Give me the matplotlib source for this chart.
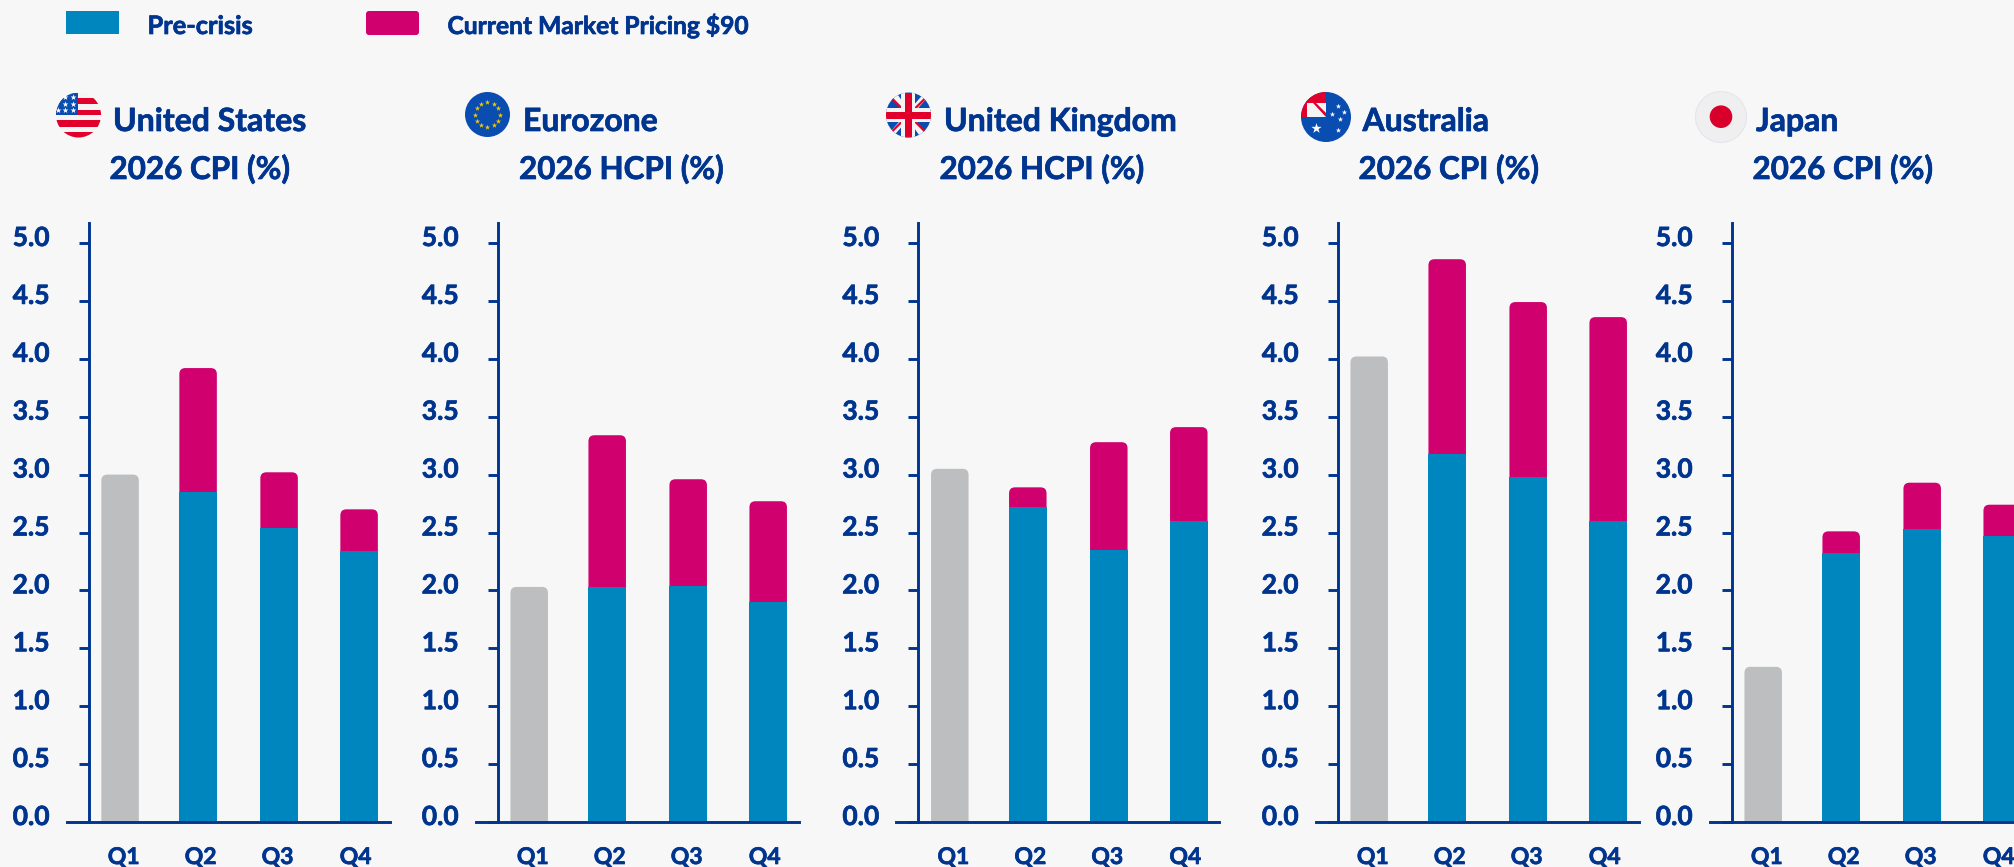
import numpy as np
import matplotlib
matplotlib.use("Agg")
import matplotlib.pyplot as plt
import matplotlib.patheffects as pe
from matplotlib.patches import Circle, FancyBboxPatch, Polygon, Rectangle
from matplotlib.text import Text
from matplotlib.transforms import ScaledTranslation

plt.rcParams['font.family'] = ['Lato', 'DejaVu Sans']
plt.rcParams['font.weight'] = 'bold'

# data
quarters = ["Q1", "Q2", "Q3", "Q4"]
yticks = [0.0, 0.5, 1.0, 1.5, 2.0, 2.5, 3.0, 3.5, 4.0, 4.5, 5.0]
countries = ["United States", "Eurozone", "United Kingdom", "Australia", "Japan"]
subtitles = ["2026 CPI (%)", "2026 HCPI (%)", "2026 HCPI (%)", "2026 CPI (%)", "2026 CPI (%)"]
q1_actual = [3.00, 2.03, 3.05, 4.02, 1.34]
pre_crisis_us = [2.85, 2.54, 2.34]
pre_crisis_ez = [2.03, 2.04, 1.90]
pre_crisis_uk = [2.72, 2.35, 2.60]
pre_crisis_au = [3.18, 2.98, 2.60]
pre_crisis_jp = [2.32, 2.53, 2.47]
market_us = [3.92, 3.02, 2.70]
market_ez = [3.34, 2.96, 2.77]
market_uk = [2.89, 3.28, 3.41]
market_au = [4.86, 4.49, 4.36]
market_jp = [2.51, 2.93, 2.74]

pre_crisis = [pre_crisis_us, pre_crisis_ez, pre_crisis_uk, pre_crisis_au, pre_crisis_jp]
market = [market_us, market_ez, market_uk, market_au, market_jp]

# colours
BG = "#F7F7F7"
NAVY = "#00358F"
BLUE = "#0086BF"
PINK = "#D0006F"
GREY = "#BDBEC0"
RED = "#E0002B"
FLAG_BLUE = "#0A4DB0"

# layout, all in pixels of the 2015x867 picture
W, H = 2015, 867
BASE_Y, TOP_Y = 822, 223
PX_PER_UNIT = 115.8
axis_x = [88.6, 497.7, 918.3, 1337.7, 1731.7]
title_x = [113, 523, 944, 1362.5, 1756]
sub_x = [109.5, 519, 939.5, 1358.5, 1752.5]
bar_x = [31.5, 109.5, 190.5, 270.5]
label_x = [35, 112, 189, 267]
BAR_W = 37.5
RADIUS = 6

fig = plt.figure(figsize=(W / 100, H / 100), dpi=100, facecolor=BG)


def rounded_bar(ax, x, top, color):
    # bar with rounded top, bottom corners hang below the axis and get clipped
    asp = 1 / PX_PER_UNIT
    p = FancyBboxPatch((x - BAR_W / 2 + RADIUS, -0.3), BAR_W - 2 * RADIUS, top + 0.3 - RADIUS * asp,
                       boxstyle="round,pad=%g,rounding_size=%g" % (RADIUS, RADIUS),
                       mutation_aspect=asp, fc=color, ec="none", zorder=2)
    ax.add_patch(p)


for i, name in enumerate(countries):
    left = axis_x[i] - 22
    ax = fig.add_axes([left / W, 1 - BASE_Y / H, 323 / W, (BASE_Y - TOP_Y) / H], facecolor="none")
    ax.set_xlim(-22, 301)
    ax.set_ylim(0, (BASE_Y - TOP_Y) / PX_PER_UNIT)

    rounded_bar(ax, bar_x[0], q1_actual[i], GREY)
    for j in range(3):
        rounded_bar(ax, bar_x[j + 1], market[i][j], PINK)
    ax.bar(bar_x[1:], pre_crisis[i], width=BAR_W + 0.5, color=BLUE, zorder=3)

    for s in ["top", "right"]:
        ax.spines[s].set_visible(False)
    ax.spines["left"].set_position(("data", 0))
    for s in ["left", "bottom"]:
        ax.spines[s].set_color(NAVY)
        ax.spines[s].set_linewidth(2.1)
        ax.spines[s].set_zorder(4)

    ax.set_yticks(yticks)
    ax.set_yticklabels(["%.1f" % v for v in yticks], fontsize=19, color=NAVY)
    ax.tick_params(axis="y", length=7.2, width=2.1, color=NAVY, pad=21)
    up = ScaledTranslation(0, 7 / 100, fig.dpi_scale_trans)
    for lab in ax.get_yticklabels():
        lab.set_transform(lab.get_transform() + up)

    ax.set_xticks(label_x)
    ax.set_xticklabels(quarters, fontsize=16.5, color=NAVY)
    ax.tick_params(axis="x", length=0, pad=18)

# overlay in picture pixels for legend, titles and flags
ov = fig.add_axes([0, 0, 1, 1], facecolor="none")
ov.set_xlim(0, W)
ov.set_ylim(H, 0)
ov.axis("off")

# legend
ov.add_patch(Rectangle((66, 11), 53, 23, fc=BLUE, ec="none"))
ov.add_patch(FancyBboxPatch((368, 13), 49, 20, boxstyle="round,pad=2,rounding_size=3", fc=PINK, ec="none"))
ov.text(147.5, 34, "Pre-crisis", fontsize=18.3, color=NAVY, va="baseline")
ov.text(447.5, 34, "Current Market Pricing $90", fontsize=17.7, color=NAVY, va="baseline")

for i, name in enumerate(countries):
    ov.text(title_x[i], 131, name, fontsize=23, color=NAVY, va="baseline")
    ov.text(sub_x[i], 179, subtitles[i], fontsize=22.6, color=NAVY, va="baseline")


def disc(cx, cy, r, color, z=5):
    c = Circle((cx, cy), r, fc=color, ec="none", zorder=z)
    ov.add_patch(c)
    return c


def stars(xs, ys, size, color="white", marker="*"):
    ov.scatter(xs, ys, s=size, c=color, marker=marker, linewidths=0, zorder=7)


# US flag
cx, cy, r = 78.5, 115, 22.5
clip = disc(cx, cy, r, "#F4F4F4")
for y0, y1 in [(98, 103.5), (109.5, 115), (120, 126.5), (131.5, 138)]:
    ov.add_patch(Rectangle((cx - r, y0), 2 * r, y1 - y0, fc=RED, ec="none", zorder=6, clip_path=clip))
ov.add_patch(Rectangle((cx - r, cy - r), r, r, fc=FLAG_BLUE, ec="none", zorder=6, clip_path=clip))
stars([65.5, 73, 65.5, 73, 58, 65.5, 73], [97, 97, 103.5, 103.5, 110, 110, 110], 20)

# EU flag
cx, cy, r = 487.5, 114.5, 22.5
disc(cx, cy, r, FLAG_BLUE)
ang = np.arange(12) * np.pi / 6
stars(cx + 12.5 * np.cos(ang), cy + 12.5 * np.sin(ang), 16, "#F5C800")

# UK flag
cx, cy, r = 908.5, 115, 22.5
clip = disc(cx, cy, r, FLAG_BLUE)
for sx in (1, -1):
    d = 6 * sx
    ov.add_patch(Polygon([(cx - r - d / 6, cy - r * sx - d), (cx - r + d, cy - r * sx - d),
                          (cx + r + d / 6, cy + r * sx + d), (cx + r - d, cy + r * sx + d)],
                         fc="#F4F4F4", ec="none", zorder=6, clip_path=clip))
    ov.plot([cx - r, cx + r], [cy - r * sx, cy + r * sx], color=RED, lw=1.6, zorder=6.5, clip_path=clip)
ov.add_patch(Rectangle((cx - r, cy - 7), 2 * r, 14, fc="#F4F4F4", ec="none", zorder=7, clip_path=clip))
ov.add_patch(Rectangle((cx - 7, cy - r), 14, 2 * r, fc="#F4F4F4", ec="none", zorder=7, clip_path=clip))
ov.add_patch(Rectangle((cx - r, cy - 3.5), 2 * r, 7, fc=RED, ec="none", zorder=8, clip_path=clip))
ov.add_patch(Rectangle((cx - 3.5, cy - r), 7, 2 * r, fc=RED, ec="none", zorder=8, clip_path=clip))

# Australian flag
cx, cy, r = 1326, 117, 25
clip = disc(cx, cy, r, FLAG_BLUE)
ov.add_patch(Rectangle((cx - r, cy - r), r, r, fc=RED, ec="none", zorder=6, clip_path=clip))
ov.add_patch(Rectangle((cx - r + 6, cy - r + 11), r - 6, r - 11, fc="#F4F4F4", ec="none", zorder=6.2, clip_path=clip))
ov.add_patch(Polygon([(cx - 13, cy - 14), (cx - 10, cy - 14), (cx, cy - 4), (cx, cy)],
                     fc=RED, ec="none", zorder=6.4))
stars([1338, 1332, 1344, 1340, 1338], [106, 114, 112, 119, 130], 16)
stars([1316], [127.5], 60)

# Japanese flag
cx, cy, r = 1721, 117, 25.5
c = Circle((cx, cy), r, fc="#EFEFEF", ec="#E4E6EE", lw=0.8, zorder=5)
ov.add_patch(c)
disc(cx, 116.7, 11.3, "#D8002A", z=6)

# thicken the text a little, the original face is heavier than Lato Bold
for t in fig.findobj(Text):
    t.set_path_effects([pe.withStroke(linewidth=0.5, foreground=NAVY)])

fig.savefig("out.png", dpi=100, facecolor=BG)
